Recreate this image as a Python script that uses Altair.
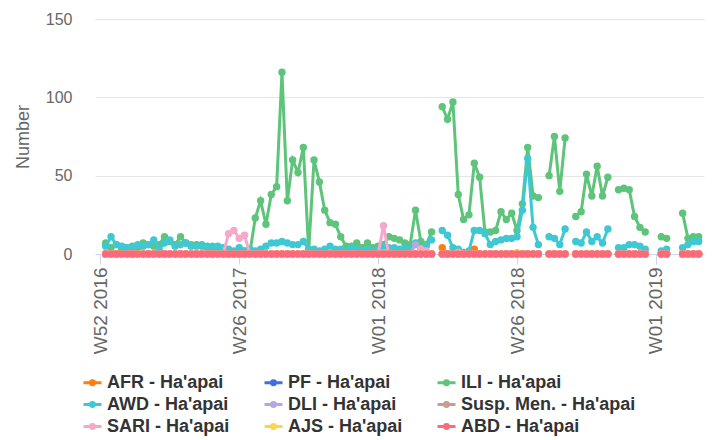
import altair as alt
import pandas as pd

# ---- data (week index 0 = W52 2016) ----
tick_index = [0, 26, 52, 78, 104]
tick_labels = ["W52 2016", "W26 2017", "W01 2018", "W26 2018", "W01 2019"]

series_names = [
    "AFR - Ha'apai", "PF - Ha'apai", "ILI - Ha'apai",
    "AWD - Ha'apai", "DLI - Ha'apai", "Susp. Men. - Ha'apai",
    "SARI - Ha'apai", "AJS - Ha'apai", "ABD - Ha'apai",
]
series_colors = [
    "#fb7e0f", "#3f6fe0", "#5dc47a",
    "#3ec8d4", "#b8a6e4", "#c99c92",
    "#f5a8c9", "#fdd54c", "#fc6a7a",
]

N = None
ili = [
    N, 7, 4, 6, 3, 4, 5, 4, 7, 6,
    5, 6, 11, 8, 6, 11, 7, 6, 6, 5,
    5, 3, 2, 1, 1, 0, 1, 2, 1, 23,
    34, 19, 38, 43, 116, 34, 60, 52, 68, 2,
    60, 46, 28, 20, 19, 11, 5, 5, 7, 4,
    7, 4, 5, 6, 11, 10, 9, 7, 6, 28,
    8, 6, 14, N, 94, 86, 97, 38, 22, 25,
    58, 49, 14, 14, 15, 27, 22, 26, 15, 32,
    68, 37, 36, N, 50, 75, 40, 74, N, 24,
    27, 51, 37, 56, 37, 49, N, 41, 42, 41,
    24, 17, 14, N, N, 11, 10, N, N, 26,
    10, 11, 11,
]
awd = [
    N, 5, 11, 6, 5, 4, 4, 6, 5, 6,
    9, 3, 7, 9, 5, 6, 7, 5, 5, 6,
    4, 5, 5, 4, 3, 2, 4, 2, 3, 2,
    3, 5, 7, 7, 8, 7, 6, 6, 8, 3,
    3, 2, 3, 5, 3, 3, 2, 4, 3, 2,
    3, 2, 3, 5, 4, 4, 3, 4, 3, 7,
    3, 5, 9, N, 15, 12, 4, 3, 1, 2,
    15, 15, 13, 6, 8, 9, 10, 10, 11, 28,
    61, 17, 6, N, 11, 10, 6, 16, N, 8,
    7, 14, 8, 11, 7, 16, N, 4, 4, 6,
    6, 5, 3, N, N, 2, 3, N, N, 4,
    6, 8, 8,
]
abd = [
    N, 0, 0, 0, 0, 0, 0, 0, 0, 0,
    0, 0, 0, 0, 0, 0, 0, 0, 0, 0,
    0, 0, 0, 0, 0, 0, 0, 0, 0, 0,
    0, 0, 0, 0, 0, 0, 0, 0, 0, 0,
    0, 0, 0, 0, 0, 0, 0, 0, 0, 0,
    0, 0, 0, 0, 0, 0, 0, 0, 0, 0,
    0, 0, 0, N, 0, 0, 0, 0, 0, 0,
    0, 0, 0, 0, 0, 0, 0, 0, 0, 0,
    0, 0, 0, N, 0, 0, 0, 0, N, 0,
    0, 0, 0, 0, 0, 0, N, 0, 0, 0,
    0, 0, 0, N, N, 0, 0, N, N, 0,
    0, 0, 0,
]
# minor series: zero in reported weeks except these values
afr_nonzero = {64: 4, 70: 3}
pf_nonzero = {60: 3}
dli_nonzero = {59: 6, 60: 2}
men_nonzero = {}
sari_nonzero = {24: 13, 25: 15, 26: 10, 27: 12, 53: 18, 60: 3, 61: 2, 67: 1}
ajs_nonzero = {78: 1}


def minor(nonzero):
    return [None if r is None else nonzero.get(i, 0) for i, r in enumerate(abd)]


all_series = [
    minor(afr_nonzero), minor(pf_nonzero), ili,
    awd, minor(dli_nonzero), minor(men_nonzero),
    minor(sari_nonzero), minor(ajs_nonzero), abd,
]

rows = []
for name, vals in zip(series_names, all_series):
    for i, v in enumerate(vals):
        rows.append({"idx": i, "series": name, "value": v})
df = pd.DataFrame(rows)

# ---- encodings ----
label_expr = " : ".join(
    f"datum.value == {v} ? '{t}'" for v, t in zip(tick_index, tick_labels)
) + " : ''"

font = "Liberation Sans"

x_enc = alt.X(
    "idx:Q",
    scale=alt.Scale(domain=[-1, 113], nice=False, zero=False),
    axis=alt.Axis(
        values=tick_index, labelExpr=label_expr, title=None, grid=False,
        domainColor="#ccd6eb", domainWidth=1, tickColor="#ccd6eb", tickSize=10,
        labelAngle=270, labelFont=font, labelFontSize=19, labelColor="#666666",
        labelPadding=3, labelFlush=False, labelOverlap=False, labelBound=False,
    ),
)
y_enc = alt.Y(
    "value:Q",
    scale=alt.Scale(domain=[0, 150], nice=False),
    axis=alt.Axis(
        values=[0, 50, 100, 150], grid=True, gridColor="#e6e6e6", gridWidth=1,
        domain=False, ticks=False, labelPadding=23, labelFont=font,
        labelFontSize=16, labelColor="#666666",
        title="Number", titleFont=font, titleFontSize=18, titleFontWeight="normal",
        titleColor="#666666", titleAngle=270, titleX=-72, titleY=117.5,
        titleAlign="center", titleBaseline="middle",
    ),
)
symbol_path = "M-1,0L1,0M-0.22,0A0.22,0.22 0 1,0 0.22,0A0.22,0.22 0 1,0 -0.22,0"
color_enc = alt.Color(
    "series:N",
    scale=alt.Scale(domain=series_names, range=series_colors),
    legend=alt.Legend(
        title=None, orient="none", legendX=-13, legendY=353, columns=3,
        direction="horizontal",
        labelFont=font, labelFontSize=18, labelFontWeight="bold",
        labelColor="#333333", symbolType=symbol_path, symbolSize=324,
        symbolStrokeWidth=3, labelOffset=4, columnPadding=28, rowPadding=2,
        padding=0, labelLimit=0,
    ),
)

layers = []
for name in series_names:
    line = alt.Chart().transform_filter(alt.datum.series == name).mark_line(
        strokeWidth=3
    ).encode(x=x_enc, y=y_enc, color=color_enc)
    pts = alt.Chart().transform_filter(alt.datum.series == name).mark_circle(
        size=55, opacity=1
    ).encode(x=x_enc, y=y_enc, color=color_enc)
    layers += [line, pts]

chart = alt.layer(*layers, data=df).properties(
    width=609, height=235,
    autosize=alt.AutoSizeParams(type="none"),
    padding={"left": 87, "top": 11, "right": 2, "bottom": 184},
).configure_view(stroke=None)

chart.save("out.html", embed_options={"renderer": "svg", "actions": False})
